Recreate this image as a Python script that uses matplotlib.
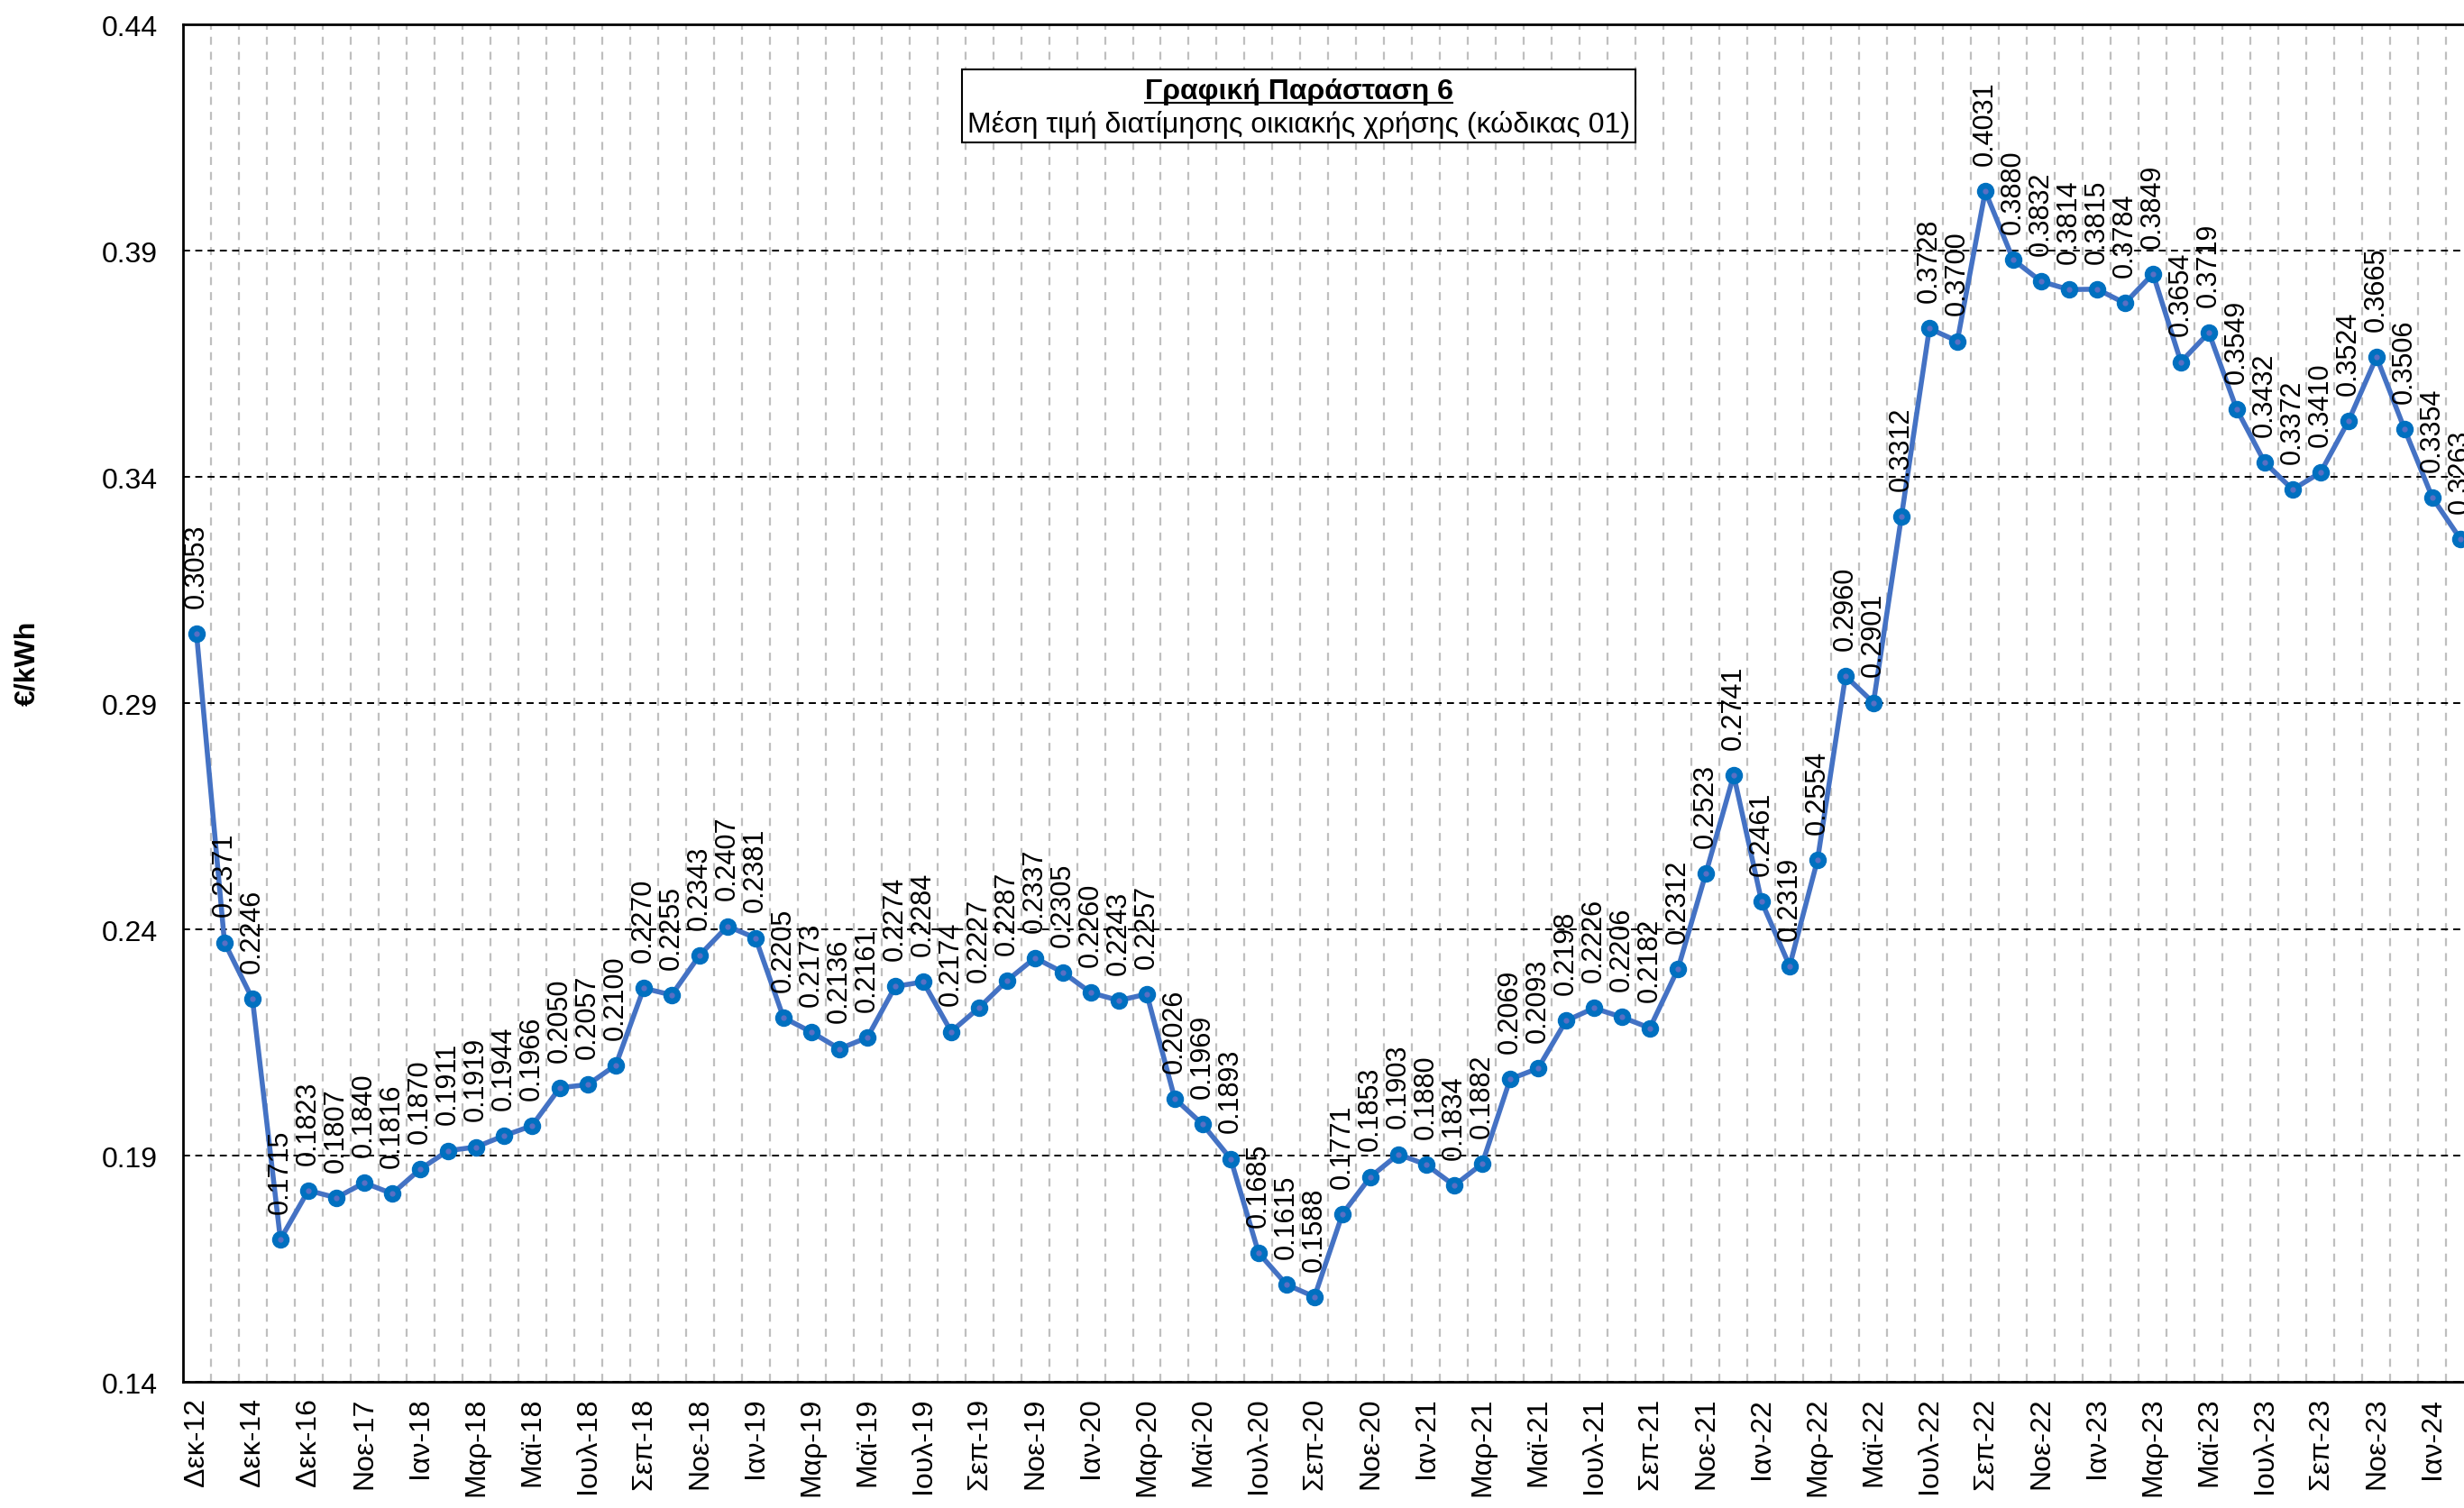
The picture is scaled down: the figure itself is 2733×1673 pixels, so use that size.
import matplotlib
matplotlib.use("Agg")
import matplotlib.pyplot as plt
from matplotlib.patches import Rectangle
from matplotlib.lines import Line2D

plt.rcParams['font.family'] = ['Liberation Sans', 'DejaVu Sans']

# categories (first points are yearly, then monthly)
months = ['Ιαν', 'Φεβ', 'Μαρ', 'Απρ', 'Μαϊ', 'Ιουν', 'Ιουλ', 'Αυγ', 'Σεπ', 'Οκτ', 'Νοε', 'Δεκ']
first_cats = ['Δεκ-12', 'Δεκ-13', 'Δεκ-14', 'Δεκ-15', 'Δεκ-16', 'Οκτ-17']
monthly_cats = []
for yr in range(17, 25):
    for m in months:
        monthly_cats.append(m + '-' + str(yr))
monthly_cats = monthly_cats[monthly_cats.index('Νοε-17'):monthly_cats.index('Φεβ-24') + 1]
categories = first_cats + monthly_cats

prices = [0.3053, 0.2371, 0.2246, 0.1715, 0.1823, 0.1807, 0.1840, 0.1816, 0.1870, 0.1911,
          0.1919, 0.1944, 0.1966, 0.2050, 0.2057, 0.2100, 0.2270, 0.2255, 0.2343, 0.2407,
          0.2381, 0.2205, 0.2173, 0.2136, 0.2161, 0.2274, 0.2284, 0.2174, 0.2227, 0.2287,
          0.2337, 0.2305, 0.2260, 0.2243, 0.2257, 0.2026, 0.1969, 0.1893, 0.1685, 0.1615,
          0.1588, 0.1771, 0.1853, 0.1903, 0.1880, 0.1834, 0.1882, 0.2069, 0.2093, 0.2198,
          0.2226, 0.2206, 0.2182, 0.2312, 0.2523, 0.2741, 0.2461, 0.2319, 0.2554, 0.2960,
          0.2901, 0.3312, 0.3728, 0.3700, 0.4031, 0.3880, 0.3832, 0.3814, 0.3815, 0.3784,
          0.3849, 0.3654, 0.3719, 0.3549, 0.3432, 0.3372, 0.3410, 0.3524, 0.3665, 0.3506,
          0.3354, 0.3263]

y_ticks = [0.14, 0.19, 0.24, 0.29, 0.34, 0.39, 0.44]
title1 = 'Γραφική Παράσταση 6'
title2 = 'Μέση τιμή διατίμησης οικιακής χρήσης (κώδικας 01)'

fs = 23
fig = plt.figure(figsize=(27.33, 16.74), dpi=100)
ax = fig.add_axes([0.0741, 0.0836, 0.9301, 0.8996])

x = list(range(len(prices)))
ax.plot(x, prices, color='#4472C4', lw=4, marker='o', ms=13,
        mfc='#0070C0', mec='#0070C0', zorder=3)
ax.plot(x, prices, ls='none', marker='o', ms=3.5, color='#5A6FC4', zorder=4)

for xi, v in zip(x, prices):
    ax.annotate('%.4f' % v, (xi, v), xytext=(0, 21), textcoords='offset points',
                rotation=90, ha='center', va='bottom', fontsize=22, zorder=5)

ax.set_xlim(-0.5, len(prices) - 0.5)
ax.set_ylim(0.14, 0.44)
ax.set_yticks(y_ticks)
ax.set_yticklabels(['%.2f' % t for t in y_ticks])
ax.set_xticks(x[::2])
ax.set_xticklabels(categories[::2], rotation=90)
ax.set_xticks([i + 0.5 for i in x], minor=True)
ax.tick_params(axis='both', which='both', length=0, labelsize=fs)
ax.tick_params(axis='x', pad=12)
ax.tick_params(axis='y', pad=20)

ax.set_axisbelow(True)
ax.grid(axis='y', which='major', color='black', lw=1.4, ls=(0, (4, 3)))
ax.grid(axis='x', which='minor', color='#BFBFBF', lw=1.6, ls=(0, (4, 3.5)))

for s in ax.spines.values():
    s.set_linewidth(2)

ax.set_ylabel('€/kWh', fontsize=fs, fontweight='bold')
ax.yaxis.set_label_coords(-0.062, 0.53)

# title box
ax.add_patch(Rectangle((0.340, 0.913), 0.294, 0.054, transform=ax.transAxes,
                       facecolor='white', edgecolor='black', lw=1.5, zorder=6))
t1 = ax.text(0.487, 0.951, title1, transform=ax.transAxes, ha='center', va='center',
             fontsize=fs, fontweight='bold', zorder=7)
ax.text(0.487, 0.927, title2, transform=ax.transAxes, ha='center', va='center',
        fontsize=fs, zorder=7)

fig.canvas.draw()
bb = t1.get_window_extent().transformed(fig.transFigure.inverted())
fig.add_artist(Line2D([bb.x0, bb.x1], [bb.y0 + 0.001, bb.y0 + 0.001], color='black', lw=1.5,
                      transform=fig.transFigure, zorder=8))

fig.savefig('out.png', dpi=100)
